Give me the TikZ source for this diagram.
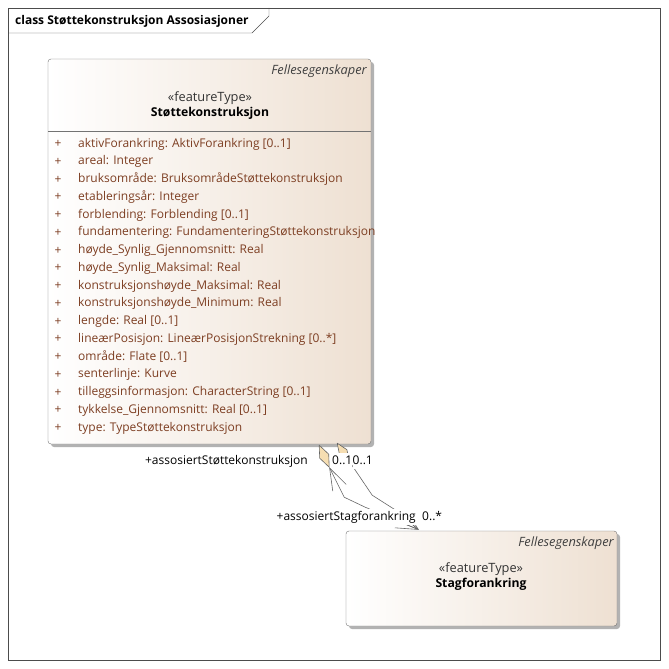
\documentclass[tikz,border=0pt]{standalone}
\usepackage{fontspec}
\setmainfont{Open Sans}
\usetikzlibrary{
  calc,
  shadows,
  positioning,
  arrows.meta
}
\definecolor{boxfill}{RGB}{238,224,210}
\definecolor{boxline}{RGB}{115,115,115}
\definecolor{attrtext}{RGB}{125,62,34}
\definecolor{aggrfill}{RGB}{246,222,178}
\tikzset{%
  every node/.style={font=\fontsize{12}{14}\selectfont, inner sep=1pt},
  classbox/.style={%
    draw=boxline, rounded corners=3pt, left color=white, right color=boxfill,
    drop shadow={shadow xshift=3pt, shadow yshift=-3pt, fill=black!30, opacity=1}
  },
  attr/.style={anchor=west, text=attrtext}, % one line in the attribute list
  vis/.style={text=attrtext},
  tagged/.style={font=\fontsize{12.8}{15}\selectfont\itshape, text=black!75},
  stereo/.style={font=\fontsize{12.8}{15}\selectfont, text=black!80},
  cname/.style={font=\fontsize{12.2}{14}\selectfont\bfseries},
  rolelabel/.style={fill=white, inner xsep=1pt, inner ysep=1pt, text height=10pt, text depth=4pt},
  assoc/.style={draw=black!60, semithick, >={Straight Barb[length=22pt, width=15pt]}},
  aggr/.style={draw=black!60, fill=aggrfill, semithick, line join=round}
}

\begin{document}
\begin{tikzpicture}[x=1pt, y=-1pt]
  \useasboundingbox (0,0) rectangle (669,669);
  \draw[black!70] (8,8) rectangle (660,660);
  \draw[black!70] (8,33) -- (252,33) -- (269,16) -- (269,8);
  \node[anchor=west, font=\fontsize{12}{14}\selectfont\bfseries] (title) at (14,21) {class Støttekonstruksjon Assosiasjoner};

  % the two classes
  \node[classbox, minimum width=323pt, minimum height=385pt] (stotte) at (209.5,251.5) {};
  \node[tagged, anchor=east] (stottetag) at (368,71) {Fellesegenskaper};
  \node[stereo] (stottest) at (210,98) {«featureType»};
  \node[cname, below=0pt of stottest] (stottename) {Støttekonstruksjon};
  \draw[boxline] (stotte.west |- 0,131) -- (stotte.east |- 0,131);
  \foreach \a [count=\i from 0] in {aktivForankring: AktivForankring [0..1], areal: Integer,
      bruksområde: BruksområdeStøttekonstruksjon, etableringsår: Integer,
      forblending: Forblending [0..1], fundamentering: FundamenteringStøttekonstruksjon,
      høyde\_Synlig\_Gjennomsnitt: Real, høyde\_Synlig\_Maksimal: Real,
      konstruksjonshøyde\_Maksimal: Real, konstruksjonshøyde\_Minimum: Real,
      lengde: Real [0..1], lineærPosisjon: LineærPosisjonStrekning [0..*],
      område: Flate [0..1], senterlinje: Kurve, tilleggsinformasjon: CharacterString [0..1],
      tykkelse\_Gjennomsnitt: Real [0..1], type: TypeStøttekonstruksjon} {
    \node[vis] (plus\i) at (58,144+17.75*\i) {+};
    \node[attr] (attr\i) at (77,144+17.75*\i) {\a};
  }

  \node[classbox, minimum width=271pt, minimum height=95pt] (stag) at (481.5,578.5) {};
  \node[tagged, anchor=east] (stagtag) at (615,543) {Fellesegenskaper};
  \node[stereo] (stagst) at (481,569) {«featureType»};
  \node[cname, below=0pt of stagst] (stagname) {Stagforankring};

  % associations
  \coordinate (aggA) at ($(stotte.south east)+(-52,1)$);
  \coordinate (endA) at ($(aggA)+(10,22)$);
  \coordinate (aggB) at ($(stotte.south east)+(-34,-1)$);
  \coordinate (endB) at ($(aggB)+(12,18)$);
  \coordinate (tip) at ($(stag.north west)+(73,-1)$);
  \draw[assoc, <->] (endA) -- ++(15,30) -- ++(21,10) -- (tip);
  \draw[assoc, ->] (endB) -- ++(23,34) -- ++(22,14) -- (tip);
  \draw[aggr] (aggA) -- ++(9.5,9) -- (endA) -- ++(-9.5,-9) -- cycle;
  \draw[aggr] (aggB) -- ++(9.7,6.5) -- (endB) -- ++(-9.7,-6.5) -- cycle;

  \node[rolelabel, anchor=east] (roleA) at (309,461) {+assosiertStøttekonstruksjon};
  \node[rolelabel, anchor=west, inner xsep=0pt] (multA) at (332,461) {0..1};
  \node[rolelabel, anchor=west, inner xsep=0pt] (multB) at (multA.east) {0..1};
  \node[rolelabel, anchor=east] (roleB) at (417,517) {+assosiertStagforankring};
  \node[rolelabel, anchor=west] (multC) at (421,517) {0..*};
\end{tikzpicture}
\end{document}
